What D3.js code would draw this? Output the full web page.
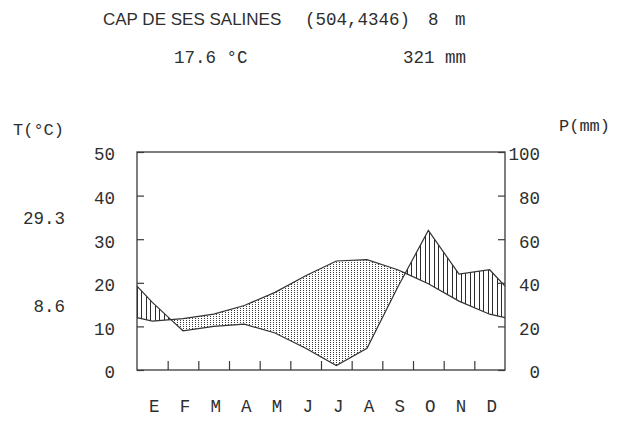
<!DOCTYPE html>
<html>
<head>
<meta charset="utf-8">
<script src="https://cdn.jsdelivr.net/npm/d3@7"></script>
<style>
  html, body { margin: 0; padding: 0; background: #fff; }
  svg { display: block; }
  text { fill: #2e2e2e; }
</style>
</head>
<body>
<svg id="chart" width="620" height="427"></svg>
<script>
// ---- data ----
const months = ["E", "F", "M", "A", "M", "J", "J", "A", "S", "O", "N", "D"];
const temperature = [11.2, 11.8, 12.8, 14.8, 17.8, 21.6, 25.0, 25.3, 23.0, 19.8, 15.8, 12.8];
const precipitation = [31, 18, 20, 21, 17, 10, 2, 10, 38, 64, 44, 46];
const tempTicks = [0, 10, 20, 30, 40, 50];
const precTicks = [0, 20, 40, 60, 80, 100];
const stationName = "CAP DE SES SALINES";
const stationCoords = "(504,4346)";
const stationAlt = "8 m";
const meanTemp = "17.6 °C";
const totalPrec = "321 mm";
const maxTempLabel = "29.3";
const minTempLabel = "8.6";

// ---- layout ----
const svg = d3.select("#chart");
const L = 137, R = 505, T = 152, B = 370;
const x = d3.scaleLinear().domain([0, 12]).range([L, R]);
const yT = d3.scaleLinear().domain([0, 50]).range([B, T]);
const yP = d3.scaleLinear().domain([0, 100]).range([B, T]);
const mono = "'Liberation Mono', 'DejaVu Sans Mono', monospace";

// ---- patterns ----
const defs = svg.append("defs");
const hatch = defs.append("pattern").attr("id", "hatch")
  .attr("patternUnits", "userSpaceOnUse").attr("x", L).attr("y", 0)
  .attr("width", 9).attr("height", 10);
hatch.append("line").attr("x1", 0.5).attr("x2", 0.5).attr("y1", 0).attr("y2", 10)
  .attr("stroke", "#2a2a2a").attr("stroke-width", 1);
hatch.append("line").attr("x1", 4.5).attr("x2", 4.5).attr("y1", 0).attr("y2", 10)
  .attr("stroke", "#2a2a2a").attr("stroke-width", 1);
const dots = defs.append("pattern").attr("id", "dots")
  .attr("patternUnits", "userSpaceOnUse").attr("x", L).attr("y", 0)
  .attr("width", 3).attr("height", 2);
dots.append("rect").attr("x", 1).attr("y", 0).attr("width", 1).attr("height", 1)
  .attr("fill", "#3a3a3a");

// ---- series with wrap-around edges and crossings ----
const n = months.length;
const edgeT = (temperature[0] + temperature[n - 1]) / 2;
const edgeP = (precipitation[0] + precipitation[n - 1]) / 2;
let pts = [{ m: 0, t: edgeT, p: edgeP }];
months.forEach((_, i) => pts.push({ m: i + 0.5, t: temperature[i], p: precipitation[i] }));
pts.push({ m: 12, t: edgeT, p: edgeP });
const full = [];
for (let i = 0; i < pts.length; i++) {
  full.push(pts[i]);
  if (i < pts.length - 1) {
    const a = pts[i], b = pts[i + 1];
    const da = a.p / 2 - a.t, db = b.p / 2 - b.t;
    if (da * db < 0) {
      const f = da / (da - db);
      full.push({ m: a.m + f * (b.m - a.m), t: a.t + f * (b.t - a.t), p: a.p + f * (b.p - a.p) });
    }
  }
}

// humid (P > T): vertical hatching
svg.append("path").datum(full)
  .attr("fill", "url(#hatch)")
  .attr("d", d3.area().x(d => x(d.m)).y0(d => yT(d.t)).y1(d => yP(Math.max(d.p, 2 * d.t))));
// dry (T > P): dots
svg.append("path").datum(full)
  .attr("fill", "url(#dots)")
  .attr("d", d3.area().x(d => x(d.m)).y0(d => yP(d.p)).y1(d => yT(Math.max(d.t, d.p / 2))));

// lines
svg.append("path").datum(full).attr("fill", "none").attr("stroke", "#333").attr("stroke-width", 1.2)
  .attr("d", d3.line().x(d => x(d.m)).y(d => yT(d.t)));
svg.append("path").datum(full).attr("fill", "none").attr("stroke", "#333").attr("stroke-width", 1.2)
  .attr("d", d3.line().x(d => x(d.m)).y(d => yP(d.p)));

// frame
svg.append("rect").attr("x", L).attr("y", T).attr("width", R - L).attr("height", B - T)
  .attr("fill", "none").attr("stroke", "#3a3a3a").attr("stroke-width", 1.3);

// axes
function styleAxis(g) {
  g.select(".domain").remove();
  g.selectAll(".tick line").attr("stroke", "#3a3a3a").attr("stroke-width", 1.2);
  g.selectAll("text").attr("font-family", mono).attr("font-size", 17.5).attr("fill", "#2e2e2e");
}
svg.append("g").attr("transform", `translate(${L},0)`)
  .call(d3.axisLeft(yT).tickValues(tempTicks).tickSize(-7).tickPadding(22).tickFormat(d3.format("d")))
  .call(styleAxis)
  .call(g => g.selectAll("text").attr("dy", "0.45em"));
svg.append("g").attr("transform", `translate(${R},0)`)
  .call(d3.axisRight(yP).tickValues(precTicks).tickSize(-7).tickPadding(35).tickFormat(d3.format("d")))
  .call(styleAxis)
  .call(g => g.selectAll("text").attr("text-anchor", "end").attr("dy", "0.45em"));
svg.append("g").attr("transform", `translate(0,${B})`)
  .call(d3.axisBottom(x).tickValues(d3.range(1, 12)).tickSize(-9).tickFormat(""))
  .call(styleAxis);
const xm = d3.scaleBand().domain(d3.range(n)).range([L + 2, R + 2]);
svg.append("g").attr("transform", `translate(0,${B})`)
  .call(d3.axisBottom(xm).tickSize(0).tickPadding(30).tickFormat(i => months[i]))
  .call(styleAxis);

// header texts
svg.append("text").attr("x", 103).attr("y", 25)
  .attr("font-family", "'Liberation Sans', Arial, sans-serif").attr("font-size", 17)
  .text(stationName);
svg.append("text").attr("x", 305).attr("y", 25).attr("font-family", mono).attr("font-size", 17.5)
  .text(stationCoords);
svg.append("text").attr("x", 428).attr("y", 25).attr("font-family", mono).attr("font-size", 17.5)
  .attr("word-spacing", 6)
  .text(stationAlt);
svg.append("text").attr("x", 174).attr("y", 63).attr("font-family", mono).attr("font-size", 17.5)
  .text(meanTemp);
svg.append("text").attr("x", 466).attr("y", 63).attr("text-anchor", "end").attr("font-family", mono).attr("font-size", 17.5)
  .text(totalPrec);
svg.append("text").attr("x", 13).attr("y", 135).attr("font-family", mono).attr("font-size", 17)
  .text("T(°C)");
svg.append("text").attr("x", 559).attr("y", 131).attr("font-family", mono).attr("font-size", 17)
  .text("P(mm)");
svg.append("text").attr("x", 65).attr("y", 224).attr("text-anchor", "end").attr("font-family", mono).attr("font-size", 17.5)
  .text(maxTempLabel);
svg.append("text").attr("x", 65).attr("y", 312).attr("text-anchor", "end").attr("font-family", mono).attr("font-size", 17.5)
  .text(minTempLabel);
</script>
</body>
</html>
